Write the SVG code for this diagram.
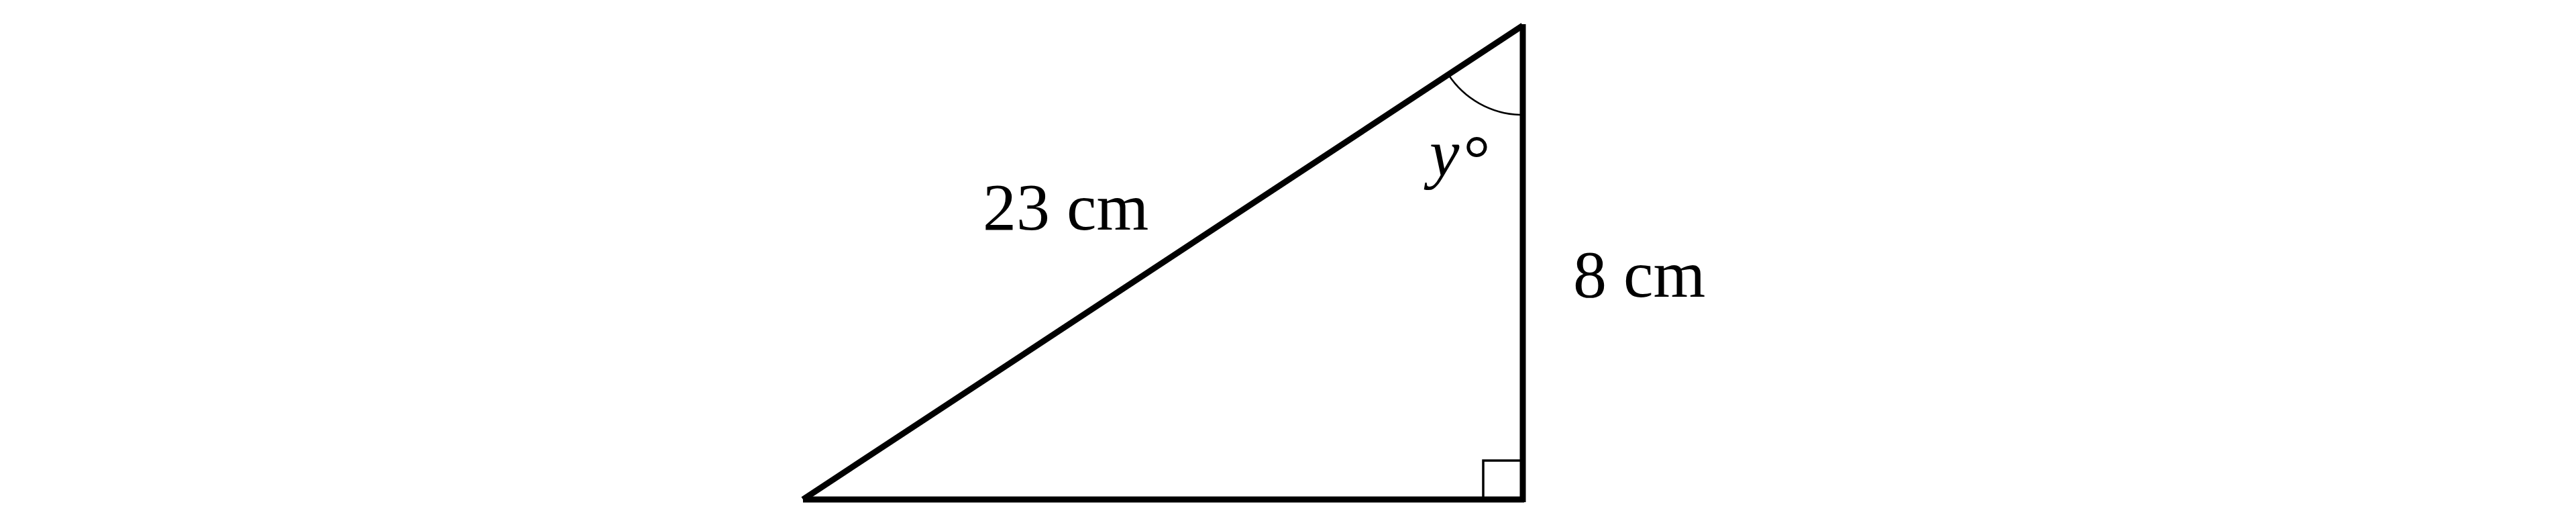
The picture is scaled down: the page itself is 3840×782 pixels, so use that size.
<svg xmlns="http://www.w3.org/2000/svg" width="3840" height="782" viewBox="0 0 3840 782">
  <style>
    .side { stroke: #000; stroke-width: 9; fill: none; stroke-linecap: butt; }
    .thin { stroke: #000; stroke-width: 3.5; fill: none; }
    .arc { stroke: #000; stroke-width: 2.5; fill: none; }
    .lbl { font-family: "Liberation Serif", "Times New Roman", serif; font-size: 100px; fill: #000; }
  </style>
  <rect width="3840" height="782" fill="#fff"/>
  <g id="triangle">
    <line class="side" x1="1197" y1="744" x2="2270" y2="38"/>
    <line class="side" x1="2270" y1="36" x2="2270" y2="748"/>
    <line class="side" x1="1197" y1="744" x2="2272" y2="744"/>
  </g>
  <g id="right-angle">
    <path class="thin" d="M2211,740 V686 H2266"/>
  </g>
  <g id="angle-arc">
    <path class="arc" d="M2159,111 A133,133 0 0 0 2266,171"/>
  </g>
  <g id="labels">
    <text class="lbl" x="1465" y="342">23 cm</text>
    <text class="lbl" x="2345" y="442">8 cm</text>
    <text class="lbl" x="2131" y="262"><tspan font-style="italic">y</tspan><tspan dx="6" dy="8">°</tspan></text>
  </g>
</svg>
